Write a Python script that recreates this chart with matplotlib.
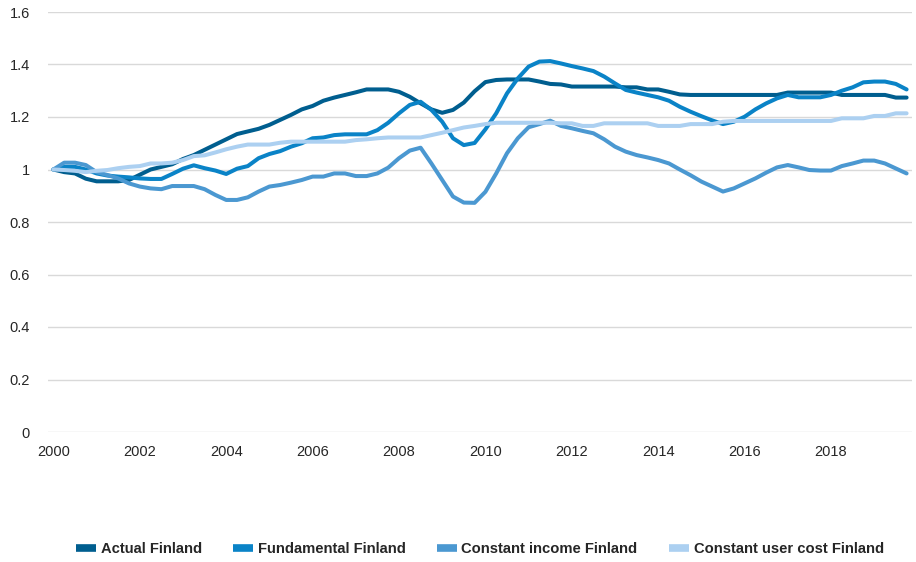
import matplotlib
matplotlib.use("Agg")
import matplotlib.pyplot as plt
import numpy as np

plt.rcParams['font.family'] = ['Liberation Sans', 'DejaVu Sans']

years = [2000, 2002, 2004, 2006, 2008, 2010, 2012, 2014, 2016, 2018]

actual = [1.00, 0.99, 0.985, 0.965, 0.955, 0.955, 0.955, 0.96, 0.98, 1.00,
          1.01, 1.02, 1.04, 1.055, 1.075, 1.095, 1.115, 1.135, 1.145, 1.155,
          1.17, 1.189, 1.208, 1.229, 1.242, 1.262, 1.274, 1.284, 1.294, 1.305,
          1.305, 1.305, 1.296, 1.277, 1.252, 1.229, 1.216, 1.227, 1.255, 1.298,
          1.333, 1.341, 1.343, 1.343, 1.343, 1.335, 1.326, 1.324, 1.316, 1.316,
          1.316, 1.316, 1.316, 1.313, 1.313, 1.305, 1.305, 1.296, 1.286, 1.284,
          1.284, 1.284, 1.284, 1.284, 1.284, 1.284, 1.284, 1.284, 1.293, 1.293,
          1.293, 1.293, 1.293, 1.284, 1.284, 1.284, 1.284, 1.284, 1.274, 1.274]

fundamental = [1.00, 1.01, 1.01, 1.00, 0.985, 0.977, 0.973, 0.97, 0.966, 0.964,
               0.964, 0.983, 1.003, 1.016, 1.005, 0.996, 0.983, 1.003, 1.013, 1.043,
               1.059, 1.07, 1.087, 1.10, 1.119, 1.122, 1.131, 1.134, 1.134, 1.134,
               1.15, 1.178, 1.214, 1.246, 1.258, 1.227, 1.182, 1.119, 1.093, 1.101,
               1.153, 1.214, 1.29, 1.347, 1.392, 1.411, 1.413, 1.404, 1.394, 1.385,
               1.375, 1.354, 1.328, 1.303, 1.293, 1.284, 1.275, 1.262, 1.239, 1.22,
               1.203, 1.187, 1.173, 1.182, 1.201, 1.229, 1.252, 1.271, 1.284, 1.275,
               1.275, 1.275, 1.284, 1.30, 1.313, 1.332, 1.335, 1.335, 1.326, 1.305]

const_income = [1.00, 1.026, 1.026, 1.017, 0.99, 0.979, 0.966, 0.947, 0.935, 0.928,
                0.925, 0.937, 0.937, 0.937, 0.925, 0.903, 0.884, 0.884, 0.894, 0.916,
                0.935, 0.941, 0.95, 0.96, 0.973, 0.973, 0.985, 0.985, 0.975, 0.975,
                0.985, 1.007, 1.043, 1.072, 1.083, 1.023, 0.96, 0.897, 0.874, 0.873,
                0.915, 0.985, 1.062, 1.119, 1.161, 1.173, 1.186, 1.166, 1.157, 1.147,
                1.138, 1.115, 1.087, 1.068, 1.055, 1.046, 1.036, 1.023, 1.00, 0.978,
                0.954, 0.935, 0.916, 0.928, 0.947, 0.966, 0.988, 1.008, 1.017, 1.008,
                0.998, 0.996, 0.996, 1.013, 1.023, 1.034, 1.034, 1.023, 1.004, 0.985]

const_user_cost = [1.00, 0.998, 0.995, 0.99, 0.995, 0.998, 1.005, 1.01, 1.013, 1.023,
                   1.023, 1.026, 1.036, 1.051, 1.054, 1.065, 1.077, 1.087, 1.095, 1.095,
                   1.095, 1.102, 1.106, 1.106, 1.106, 1.106, 1.106, 1.106, 1.112, 1.115,
                   1.119, 1.122, 1.122, 1.122, 1.122, 1.131, 1.14, 1.15, 1.16, 1.166,
                   1.173, 1.178, 1.178, 1.178, 1.178, 1.178, 1.178, 1.176, 1.176, 1.166,
                   1.166, 1.176, 1.176, 1.176, 1.176, 1.176, 1.166, 1.166, 1.166, 1.173,
                   1.173, 1.173, 1.182, 1.185, 1.185, 1.185, 1.185, 1.185, 1.185, 1.185,
                   1.185, 1.185, 1.185, 1.195, 1.195, 1.195, 1.204, 1.204, 1.214, 1.214]

series_names = ["Actual Finland", "Fundamental Finland",
                "Constant income Finland", "Constant user cost Finland"]
colors = ["#005e8f", "#0a83c7", "#4b98d1", "#acd0f1"]

fig = plt.figure(figsize=(9.16, 5.62), dpi=100)
ax = fig.add_axes([48/916, 1-432/562, (912-48)/916, (432-12)/562])

x = np.arange(len(actual))
for data, name, c in zip([actual, fundamental, const_income, const_user_cost], series_names, colors):
    ax.plot(x, data, color=c, lw=2.9, label=name, solid_joinstyle='round', solid_capstyle='round')

ax.set_xlim(-0.5, len(actual) - 0.5)
ax.set_ylim(0, 1.6)
yt = np.arange(0, 1.61, 0.2)
ax.set_yticks(yt)
ax.set_yticklabels([("%g" % round(v, 1)) for v in yt])
ax.set_xticks([(y - 2000) * 4 for y in years])
ax.set_xticklabels([str(y) for y in years])
ax.tick_params(axis='both', length=0, labelsize=10.5, labelcolor='#262626')
ax.tick_params(axis='y', pad=13)
ax.tick_params(axis='x', pad=9)
ax.grid(axis='y', color='#d9d9d9', lw=1.0)
ax.set_axisbelow(True)
for s in ax.spines.values():
    s.set_visible(False)

handles = [plt.Line2D([], [], color=c, lw=5.5, solid_capstyle='butt') for c in colors]
leg = fig.legend(handles, series_names, loc='center', bbox_to_anchor=(480/916, 1-549/562),
                 ncol=4, frameon=False, handlelength=1.35, handletextpad=0.3,
                 columnspacing=2.15, prop={'weight': 'bold', 'size': 10.6})
for t in leg.get_texts():
    t.set_color('#262626')

fig.savefig("out.png", dpi=100)
